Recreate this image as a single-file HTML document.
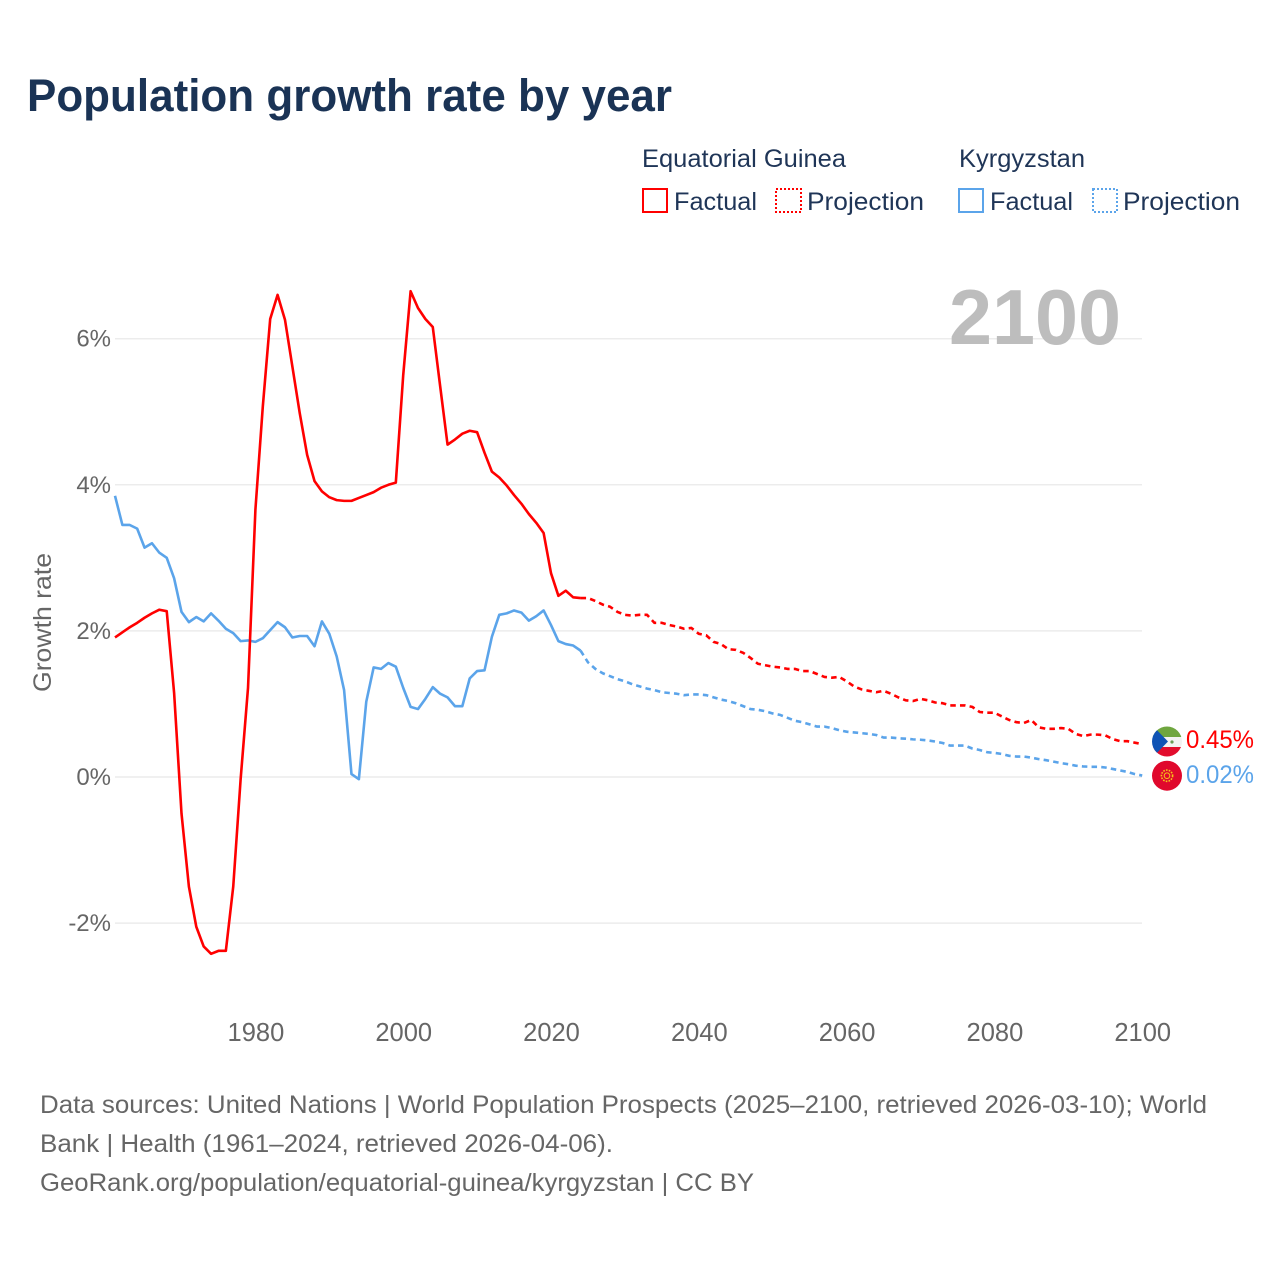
<!DOCTYPE html>
<html lang="en">
<head>
<meta charset="utf-8">
<title>Population growth rate by year</title>
<style>
  html, body { margin: 0; padding: 0; background: #fff; }
  svg { display: block; font-family: "Liberation Sans", sans-serif; }
  .legend { fill: #1f3557; font-size: 25px; }
  .foot { fill: #666; font-size: 25px; }
  .tick { fill: #666; font-size: 25px; }
</style>
</head>
<body>
<svg id="chart" width="1280" height="1280" viewBox="0 0 1280 1280" xmlns="http://www.w3.org/2000/svg">
  <rect x="0" y="0" width="1280" height="1280" fill="#fff"/>
  <text x="27" y="111" font-size="45" font-weight="700" fill="#1a3355" textLength="645" lengthAdjust="spacingAndGlyphs">Population growth rate by year</text>

  <g>
    <text class="legend" x="642" y="167" textLength="204" lengthAdjust="spacingAndGlyphs">Equatorial Guinea</text>
    <text class="legend" x="959" y="167" textLength="126" lengthAdjust="spacingAndGlyphs">Kyrgyzstan</text>
    <rect x="643" y="189" width="24" height="23" fill="none" stroke="#ff0000" stroke-width="2"/>
    <text class="legend" x="674" y="210" textLength="83" lengthAdjust="spacingAndGlyphs">Factual</text>
    <rect x="776" y="189" width="25" height="23" fill="none" stroke="#ff0000" stroke-width="2" stroke-dasharray="2 2"/>
    <text class="legend" x="807" y="210" textLength="117" lengthAdjust="spacingAndGlyphs">Projection</text>
    <rect x="959" y="189" width="24" height="23" fill="none" stroke="#5ba4ea" stroke-width="2"/>
    <text class="legend" x="990" y="210" textLength="83" lengthAdjust="spacingAndGlyphs">Factual</text>
    <rect x="1093" y="189" width="24" height="23" fill="none" stroke="#5ba4ea" stroke-width="2" stroke-dasharray="2 2"/>
    <text class="legend" x="1123" y="210" textLength="117" lengthAdjust="spacingAndGlyphs">Projection</text>
  </g>

  <g id="grid"></g>
  <text x="949" y="344" font-size="78" font-weight="700" fill="#bdbdbd" textLength="172" lengthAdjust="spacingAndGlyphs">2100</text>
  <g id="yticks"></g>
  <g id="xticks"></g>
  <text class="tick" transform="translate(51,692) rotate(-90)" textLength="139" lengthAdjust="spacingAndGlyphs">Growth rate</text>
  <g id="series"></g>

  <defs>
    <clipPath id="eg-clip"><circle cx="1167" cy="741.5" r="15"/></clipPath>
    <clipPath id="kg-clip"><circle cx="1167" cy="775.7" r="15"/></clipPath>
  </defs>
  <g clip-path="url(#eg-clip)">
    <rect x="1150" y="725" width="34" height="12" fill="#6fa63f"/>
    <rect x="1150" y="737" width="34" height="10" fill="#f2f2f2"/>
    <rect x="1150" y="747" width="34" height="12" fill="#e20d2d"/>
    <polygon points="1150,723 1168,741.5 1150,760" fill="#0f53b5"/>
    <circle cx="1172" cy="742" r="1.6" fill="#6b9a55"/>
  </g>
  <g clip-path="url(#kg-clip)">
    <rect x="1150" y="759" width="34" height="34" fill="#e0082c"/>
    <circle cx="1167" cy="775.7" r="5.6" fill="none" stroke="#f5c518" stroke-width="1.6" stroke-dasharray="1.6 1.2"/>
    <circle cx="1167" cy="775.7" r="2.8" fill="none" stroke="#f5c518" stroke-width="1"/>
  </g>
  <text id="label-eg" x="1186" y="748" font-size="25" fill="#ff0000" textLength="68" lengthAdjust="spacingAndGlyphs"></text>
  <text id="label-kg" x="1186" y="783" font-size="25" fill="#5ba4ea" textLength="68" lengthAdjust="spacingAndGlyphs"></text>

  <g>
    <text class="foot" x="40" y="1113" textLength="1167" lengthAdjust="spacingAndGlyphs">Data sources: United Nations | World Population Prospects (2025–2100, retrieved 2026-03-10); World</text>
    <text class="foot" x="40" y="1152" textLength="573" lengthAdjust="spacingAndGlyphs">Bank | Health (1961–2024, retrieved 2026-04-06).</text>
    <text class="foot" x="40" y="1191" textLength="714" lengthAdjust="spacingAndGlyphs">GeoRank.org/population/equatorial-guinea/kyrgyzstan | CC BY</text>
  </g>
</svg>
<script>
const factualYears = [1961,1962,1963,1964,1965,1966,1967,1968,1969,1970,1971,1972,1973,1974,1975,1976,1977,1978,1979,1980,1981,1982,1983,1984,1985,1986,1987,1988,1989,1990,1991,1992,1993,1994,1995,1996,1997,1998,1999,2000,2001,2002,2003,2004,2005,2006,2007,2008,2009,2010,2011,2012,2013,2014,2015,2016,2017,2018,2019,2020,2021,2022,2023,2024];
const projectionYears = [2024,2025,2026,2027,2028,2029,2030,2031,2032,2033,2034,2035,2036,2037,2038,2039,2040,2041,2042,2043,2044,2045,2046,2047,2048,2049,2050,2051,2052,2053,2054,2055,2056,2057,2058,2059,2060,2061,2062,2063,2064,2065,2066,2067,2068,2069,2070,2071,2072,2073,2074,2075,2076,2077,2078,2079,2080,2081,2082,2083,2084,2085,2086,2087,2088,2089,2090,2091,2092,2093,2094,2095,2096,2097,2098,2099,2100];
const egFactual = [1.91,1.98,2.05,2.11,2.18,2.24,2.29,2.27,1.15,-0.5,-1.5,-2.05,-2.32,-2.42,-2.38,-2.38,-1.5,-0.03,1.22,3.66,5.07,6.27,6.6,6.26,5.62,4.98,4.41,4.05,3.91,3.83,3.79,3.78,3.78,3.82,3.86,3.9,3.96,4.0,4.03,5.5,6.65,6.42,6.27,6.16,5.35,4.55,4.62,4.7,4.74,4.72,4.44,4.18,4.1,3.99,3.86,3.74,3.6,3.48,3.34,2.79,2.48,2.55,2.46,2.45];
const egProjection = [2.45,2.45,2.41,2.36,2.33,2.26,2.22,2.21,2.22,2.22,2.11,2.11,2.08,2.06,2.03,2.04,1.96,1.94,1.85,1.82,1.75,1.74,1.7,1.63,1.55,1.53,1.51,1.5,1.48,1.48,1.45,1.45,1.41,1.37,1.36,1.37,1.31,1.24,1.2,1.18,1.16,1.18,1.14,1.09,1.05,1.04,1.07,1.05,1.02,1.01,0.98,0.98,0.98,0.96,0.89,0.88,0.88,0.83,0.78,0.75,0.74,0.78,0.68,0.66,0.66,0.67,0.66,0.59,0.56,0.58,0.58,0.57,0.52,0.49,0.49,0.47,0.45];
const kgFactual = [3.85,3.45,3.45,3.4,3.14,3.2,3.07,3.0,2.72,2.26,2.12,2.19,2.13,2.24,2.14,2.03,1.97,1.86,1.87,1.85,1.9,2.01,2.12,2.05,1.91,1.93,1.93,1.79,2.13,1.96,1.65,1.19,0.04,-0.03,1.03,1.5,1.48,1.56,1.51,1.22,0.96,0.93,1.07,1.23,1.14,1.09,0.97,0.97,1.35,1.45,1.46,1.92,2.22,2.24,2.28,2.25,2.14,2.2,2.28,2.08,1.86,1.82,1.8,1.73];
const kgProjection = [1.73,1.57,1.48,1.42,1.38,1.34,1.31,1.27,1.24,1.21,1.19,1.16,1.15,1.14,1.12,1.13,1.13,1.12,1.09,1.06,1.04,1.01,0.97,0.93,0.92,0.9,0.87,0.85,0.81,0.77,0.75,0.72,0.69,0.69,0.67,0.64,0.62,0.61,0.6,0.59,0.575,0.54,0.54,0.53,0.525,0.515,0.51,0.5,0.485,0.465,0.43,0.43,0.43,0.39,0.37,0.34,0.33,0.315,0.29,0.28,0.28,0.265,0.245,0.23,0.21,0.19,0.175,0.155,0.145,0.14,0.14,0.13,0.11,0.09,0.07,0.04,0.02];
const yTickValues = [6,4,2,0,-2];
const yTickLabels = ["6%","4%","2%","0%","-2%"];
const xTickValues = [1980,2000,2020,2040,2060,2080,2100];
const xTickLabels = ["1980","2000","2020","2040","2060","2080","2100"];

const SVG_NS = "http://www.w3.org/2000/svg";
function xScale(year) { return 115 + (year - 1961) * 7.39; }
function yScale(value) { return 777 - value * 73.05; }

const gridGroup = document.getElementById("grid");
const yTickGroup = document.getElementById("yticks");
const xTickGroup = document.getElementById("xticks");
const seriesGroup = document.getElementById("series");

yTickValues.forEach(function (value, i) {
  const line = document.createElementNS(SVG_NS, "line");
  line.setAttribute("x1", 115);
  line.setAttribute("x2", 1142);
  line.setAttribute("y1", yScale(value));
  line.setAttribute("y2", yScale(value));
  line.setAttribute("stroke", "#ececec");
  line.setAttribute("stroke-width", "1.5");
  
  
  gridGroup.appendChild(line);

  const label = document.createElementNS(SVG_NS, "text");
  label.setAttribute("class", "tick");
  label.setAttribute("x", 111);
  label.setAttribute("y", yScale(value) + 8);
  label.setAttribute("text-anchor", "end");
  label.style.fontSize = "24px";
  label.textContent = yTickLabels[i];
  
  
  yTickGroup.appendChild(label);
});

xTickValues.forEach(function (year, i) {
  const label = document.createElementNS(SVG_NS, "text");
  label.setAttribute("class", "tick");
  label.setAttribute("x", xScale(year) + 0.5);
  label.setAttribute("y", 1041);
  label.setAttribute("text-anchor", "middle");
  label.style.fontSize = "25.5px";
  label.textContent = xTickLabels[i];
  
  
  xTickGroup.appendChild(label);
});

function linePath(years, values) {
  return values.map(function (v, i) {
    return (i === 0 ? "M" : "L") + xScale(years[i]).toFixed(2) + " " + yScale(v).toFixed(2);
  }).join(" ");
}

function addSeries(years, values, color, dashed, name) {
  const path = document.createElementNS(SVG_NS, "path");
  path.setAttribute("d", linePath(years, values));
  path.setAttribute("fill", "none");
  path.setAttribute("stroke", color);
  path.setAttribute("stroke-width", "2.6");
  path.setAttribute("stroke-linejoin", "round");
  if (dashed) path.setAttribute("stroke-dasharray", "5.5 4.2");
  
  
  seriesGroup.appendChild(path);
}

addSeries(factualYears, kgFactual, "#5ba4ea", false, "line-kyrgyzstan-factual");
addSeries(projectionYears, kgProjection, "#5ba4ea", true, "line-kyrgyzstan-projection");
addSeries(factualYears, egFactual, "#ff0000", false, "line-equatorial-guinea-factual");
addSeries(projectionYears, egProjection, "#ff0000", true, "line-equatorial-guinea-projection");

document.getElementById("label-eg").textContent = egProjection[egProjection.length - 1].toFixed(2) + "%";
document.getElementById("label-kg").textContent = kgProjection[kgProjection.length - 1].toFixed(2) + "%";
</script>
</body>
</html>
